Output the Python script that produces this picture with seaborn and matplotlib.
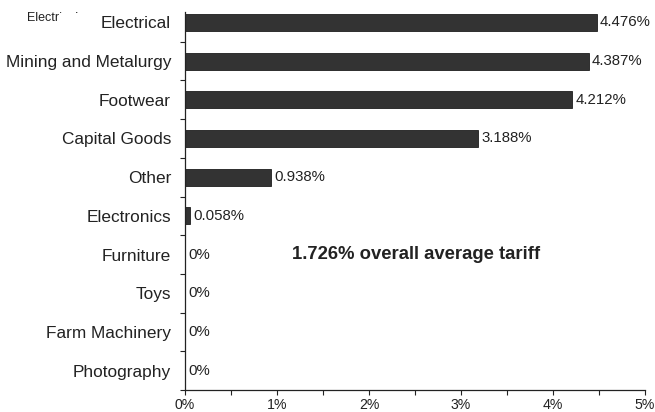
import matplotlib
matplotlib.use("Agg")
import matplotlib.pyplot as plt
import matplotlib.patches as mpatches
import numpy as np
import pandas as pd
import seaborn as sns

categories = ["Electrical", "Mining and Metalurgy", "Footwear", "Capital Goods",
              "Other", "Electronics", "Furniture", "Toys", "Farm Machinery",
              "Photography"]
tariffs = [4.476, 4.387, 4.212, 3.188, 0.938, 0.058, 0.0, 0.0, 0.0, 0.0]
x_ticks = [0, 1, 2, 3, 4, 5]
x_tick_labels = ["0%", "1%", "2%", "3%", "4%", "5%"]
overall_average = 1.726

df = pd.DataFrame({"category": categories, "tariff": tariffs})

sns.set_theme(style="white")
plt.rcParams["font.family"] = ["Liberation Sans", "DejaVu Sans"]

fig = plt.figure(figsize=(6.55, 4.12), dpi=100)
ax = fig.add_axes([0.2824, 0.0534, 0.7023, 0.9393])

sns.barplot(data=df, x="tariff", y="category", orient="h", ax=ax,
            color="#333333", saturation=1, width=0.44,
            edgecolor="#1e1e1e", linewidth=0.6)

n = len(categories)
ax.set_xlim(0, 5)
ax.set_ylim(n - 0.5, -0.5)

# value labels at the bar ends
for i, v in enumerate(tariffs):
    ax.text(v + 0.035, i, f"{v:g}%", va="center", ha="left",
            fontsize=10.8, color="#222222")

ax.text(1.16, 6, f"{overall_average:g}% overall average tariff",
        fontsize=13.3, fontweight="bold", va="center", ha="left",
        color="#222222")

ax.set_xticks(x_ticks)
ax.set_xticklabels(x_tick_labels, fontsize=10.2, color="#222222")
ax.set_xticks(np.arange(0.5, 5, 1), minor=True)
ax.tick_params(axis="x", which="both", direction="out", length=3.5,
               width=0.8, color="#222222", bottom=True, pad=2)

ax.set_yticks(range(n))
ax.set_yticklabels(categories, fontsize=12.4, color="#222222")
ax.set_yticks(np.arange(0.5, n, 1), minor=True)
ax.tick_params(axis="y", which="major", length=0, pad=10)
ax.tick_params(axis="y", which="minor", direction="out", length=3.5,
               width=0.8, color="#222222", left=True)

ax.set_xlabel("")
ax.set_ylabel("")
for side in ("top", "right"):
    ax.spines[side].set_visible(False)
for side in ("left", "bottom"):
    ax.spines[side].set_color("#222222")
    ax.spines[side].set_linewidth(0.9)
ax.spines["left"].set_bounds(n - 0.5, -0.27)

# stray small caption behind the first row label, partly hidden
fig.text(27 / 655, 1 - 21 / 412, "Electrical", fontsize=9, color="#222222",
         va="baseline", ha="left", zorder=-2)
fig.patches.append(mpatches.Rectangle((59.5 / 655, 1 - 34 / 412), 40 / 655,
                                      20.8 / 412, transform=fig.transFigure,
                                      facecolor="white", edgecolor="none",
                                      zorder=-1))

fig.savefig("out.png", dpi=100)
